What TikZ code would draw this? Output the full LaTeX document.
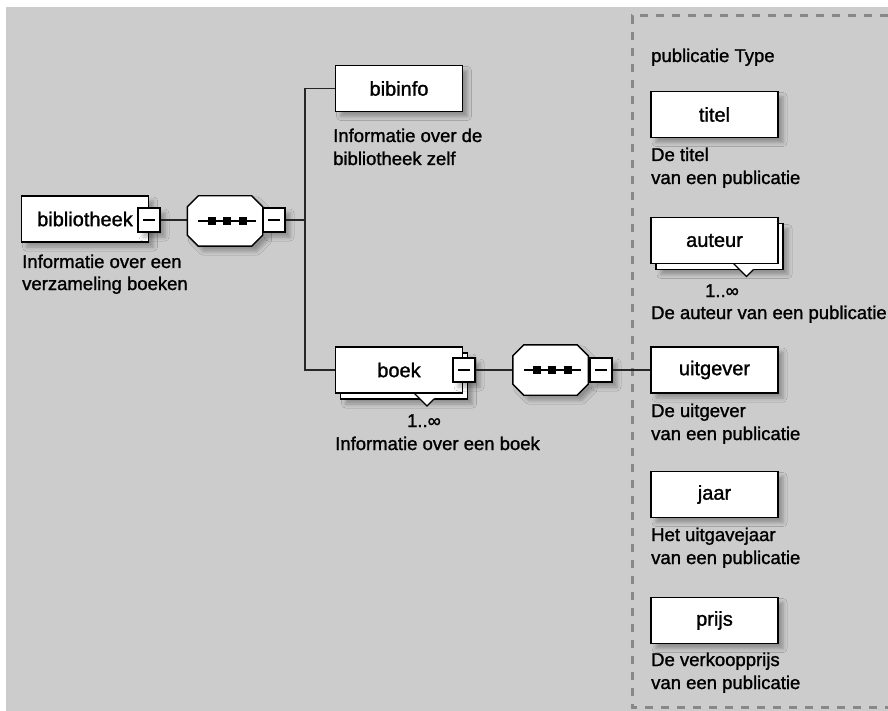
\documentclass[tikz,border=0pt]{standalone}
\usepackage{fontspec}
\setmainfont[FakeBold=1.3]{Liberation Sans}
\usetikzlibrary{calc,shadows.blur}
\definecolor{bg}{HTML}{CCCCCC}
\definecolor{dashc}{HTML}{888888}
\newcommand\lblfont{\fontsize{20}{24}\selectfont}
\newcommand\descfont{\fontsize{18.5}{23}\selectfont}
\newcommand\octdraw[1]{%
  \path[shadowed,draw=black,fill=white,line width=1.4pt]
    ($(#1.north west)+(11,0)$) -- ($(#1.north east)+(-11,0)$) -- ($(#1.north east)+(0,11)$)
    -- ($(#1.south east)+(0,-11)$) -- ($(#1.south east)+(-11,0)$) -- ($(#1.south west)+(11,0)$)
    -- ($(#1.south west)+(0,-11)$) -- ($(#1.north west)+(0,11)$) -- cycle;
  \draw[black,line width=1.3pt] ($(#1.west)+(11,0)$) -- ($(#1.east)+(-7,0)$);
  \fill[black] ($(#1.center)+(-17.5,-4)$) rectangle +(8,8);
  \fill[black] ($(#1.center)+(-2.5,-4)$) rectangle +(8,8);
  \fill[black] ($(#1.center)+(13.5,-4)$) rectangle +(8,8);
}
\newcommand\minusdraw[1]{%
  \draw[black,line width=1.2pt] ($(#1.center)+(-6,0)$) -- ($(#1.center)+(6,0)$);
}
\newcommand\stackdraw[3]{% #1 center coordinate, #2 V apex offset x, #3 name
  \path[shadowed,draw=black,fill=white,line width=1.4pt]
    ($(#1)+(-58.5,-17)$) rectangle ($(#1)+(68.5,29)$);
  \fill[white] ($(#1)+(#2-13,23)$) -- ($(#1)+(#2,36)$) -- ($(#1)+(#2+7,29)$) -- ($(#1)+(#2+7,23)$) -- cycle;
  \draw[black,line width=1.2pt] ($(#1)+(#2-13,23)$) -- ($(#1)+(#2,36)$) -- ($(#1)+(#2+7,29)$);
}
\begin{document}
\begin{tikzpicture}[x=1pt,y=-1pt,
  shadowed/.style={blur shadow={shadow xshift=5pt,shadow yshift=-5pt,shadow blur radius=4pt,shadow opacity=30}},
  elem/.style={draw=black,fill=white,line width=1.4pt,minimum width=127pt,minimum height=46pt,inner sep=0pt,font=\lblfont},
  minusbox/.style={draw=black,fill=white,line width=1.2pt,minimum width=22pt,minimum height=24pt,inner sep=0pt,shadowed},
  octbox/.style={minimum width=75pt,minimum height=50pt,inner sep=0pt},
  conn/.style={draw=black!85,line width=1.3pt},
  desc/.style={anchor=base west,inner sep=0pt,font=\descfont},
  mult/.style={anchor=base,inner sep=0pt,font=\descfont}]
\useasboundingbox (0,0) rectangle (888,711);
\fill[bg] (6,7) rectangle (888,711);
% dashed type region
\draw[dashc,line width=3pt,dash pattern=on 8pt off 8pt] (888,16) -- (632,16) -- (632,707) -- (888,707);
\node[desc] (typelbl) at (651,62) {publicatie Type};

% root
\node[elem,shadowed] (bibliotheek) at (85,219) {bibliotheek\hspace{10pt}};
\node[minusbox] (m1) at (149,220) {};
\minusdraw{m1}
\node[desc] (d1a) at (22,268) {Informatie over een};
\node[desc] (d1b) at (22,290) {verzameling boeken};

\node[octbox] (oct1) at (225,221) {};
\draw[conn] (m1.east) -- (oct1.west |- m1.east);
\octdraw{oct1}
\node[minusbox] (m2) at (274,220) {};
\minusdraw{m2}
\coordinate (jn) at (305,220);
\draw[conn] (m2.east) -- (jn);

% bibinfo
\node[elem,shadowed] (bibinfo) at (399,88.5) {bibinfo};
\node[desc] (d2a) at (333,142) {Informatie over de};
\node[desc] (d2b) at (333,165) {bibliotheek zelf};

% boek
\coordinate (boekc) at (399,370);
\stackdraw{boekc}{28}{boekback}
\node[elem] (boek) at (boekc) {boek};
\draw[conn] (bibinfo.west) -| (jn);
\draw[conn] (jn) |- (boek.west);
\node[minusbox] (m3) at (464,370) {};
\minusdraw{m3}
\node[mult] (mult1) at (424,427) {1..∞};
\node[desc] (d3) at (335,450) {Informatie over een boek};

\node[octbox] (oct2) at (550.5,370) {};
\draw[conn] (m3.east) -- (oct2.west);
\octdraw{oct2}
\node[minusbox] (m4) at (601,370) {};
\minusdraw{m4}

% children of publicatie Type
\node[elem,shadowed] (titel) at (714.5,114.5) {titel};
\node[desc] (d4a) at (651,161) {De titel};
\node[desc] (d4b) at (651,184) {van een publicatie};

\coordinate (autc) at (714.5,240.5);
\stackdraw{autc}{32}{autback}
\node[elem] (auteur) at (autc) {auteur};
\node[mult] (mult2) at (722,297) {1..∞};
\node[desc] (d5) at (651,319) {De auteur van een publicatie};

\node[elem,shadowed] (uitgever) at (714.5,370) {uitgever};
\node[desc] (d6a) at (651,417) {De uitgever};
\node[desc] (d6b) at (651,440) {van een publicatie};
\draw[conn] (m4.east) -- (uitgever.west);

\node[elem,shadowed] (jaar) at (714.5,494.5) {jaar};
\node[desc] (d7a) at (651,541) {Het uitgavejaar};
\node[desc] (d7b) at (651,564) {van een publicatie};

\node[elem,shadowed] (prijs) at (714.5,620.5) {prijs};
\node[desc] (d8a) at (651,666) {De verkoopprijs};
\node[desc] (d8b) at (651,689) {van een publicatie};
\end{tikzpicture}
\end{document}
